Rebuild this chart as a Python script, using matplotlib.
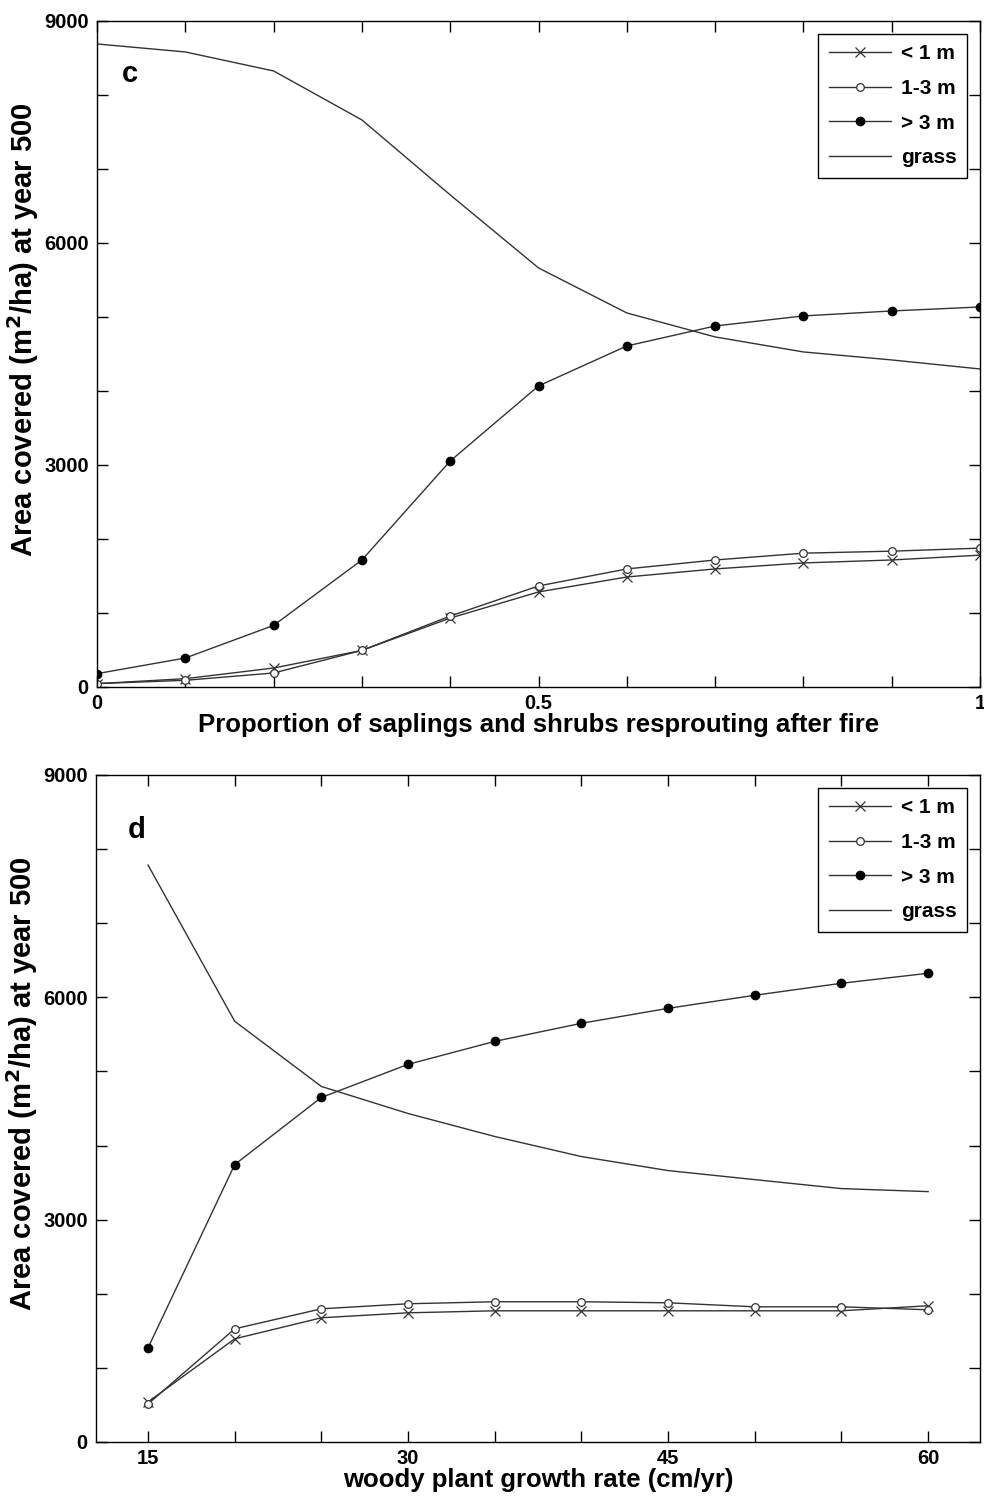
import numpy as np
import matplotlib
matplotlib.use("Agg")
import matplotlib.pyplot as plt
from matplotlib.ticker import FixedLocator, FixedFormatter

plt.rcParams['font.family'] = ['Liberation Sans', 'DejaVu Sans']
plt.rcParams['font.weight'] = 'bold'

# panel c: proportion resprouting after fire
resprout = [0.0, 0.1, 0.2, 0.3, 0.4, 0.5, 0.6, 0.7, 0.8, 0.9, 1.0]
c_lt1 = [45, 112, 256, 494, 931, 1284, 1486, 1595, 1676, 1716, 1781]
c_1to3 = [45, 90, 189, 494, 958, 1365, 1595, 1716, 1808, 1835, 1876]
c_gt3 = [180, 391, 832, 1716, 3054, 4068, 4608, 4878, 5014, 5081, 5135]
c_grass = [8689, 8581, 8324, 7662, 6649, 5662, 5054, 4730, 4527, 4419, 4297]

# panel d: woody plant growth rate
growth = [15, 20, 25, 30, 35, 40, 45, 50, 55, 60]
d_lt1 = [540, 1392, 1676, 1743, 1770, 1770, 1770, 1770, 1770, 1838]
d_1to3 = [514, 1527, 1797, 1865, 1892, 1892, 1878, 1824, 1824, 1784]
d_gt3 = [1270, 3743, 4649, 5095, 5405, 5649, 5851, 6027, 6189, 6324]
d_grass = [7784, 5676, 4797, 4432, 4122, 3851, 3662, 3540, 3419, 3378]

labels = ['< 1 m', '1-3 m', '> 3 m', 'grass']

fig = plt.figure(figsize=(9.84, 14.96), dpi=100)
ax_c = fig.add_axes([0.0986, 0.5408, 0.8974, 0.4452])
ax_d = fig.add_axes([0.0976, 0.0361, 0.8984, 0.4459])

lc = '0.2'


def draw(ax, x, lt1, mid, gt3, grass):
    ax.plot(x, lt1, color=lc, lw=1, marker='x', ms=7.5, mew=0.9, mfc='none', mec=lc, label=labels[0])
    ax.plot(x, mid, color=lc, lw=1, marker='o', ms=5.5, mew=0.9, mfc='white', mec=lc, label=labels[1])
    ax.plot(x, gt3, color=lc, lw=1, marker='o', ms=6, mfc='black', mec='black', label=labels[2])
    ax.plot(x, grass, color=lc, lw=1, label=labels[3])
    ax.set_ylim(0, 9000)
    ax.yaxis.set_major_locator(FixedLocator(np.arange(0, 9001, 1000)))
    ax.yaxis.set_major_formatter(FixedFormatter(['0', '', '', '3000', '', '', '6000', '', '', '9000']))
    ax.tick_params(direction='in', length=8, width=1, top=True, right=True,
                   labelsize=14.5, pad=6)
    ax.tick_params(axis='x', pad=5)
    ax.set_ylabel('Area covered (m$^\\mathbf{2}$/ha) at year 500', fontsize=21,
                  fontweight='bold')
    ax.yaxis.set_label_coords(-0.063, 0.537)
    for s in ax.spines.values():
        s.set_linewidth(1)
    leg = ax.legend(loc='upper right', bbox_to_anchor=(0.985, 0.9805), borderaxespad=0,
                    fancybox=False, edgecolor='black', framealpha=1, handlelength=3.0,
                    prop={'size': 15, 'weight': 'bold'}, borderpad=0.5,
                    labelspacing=0.75, handletextpad=0.45)
    leg.get_frame().set_linewidth(1)


draw(ax_c, resprout, c_lt1, c_1to3, c_gt3, c_grass)
ax_c.set_xlim(0, 1)
ax_c.xaxis.set_major_locator(FixedLocator(np.round(np.arange(0, 1.01, 0.1), 1)))
ax_c.xaxis.set_major_formatter(FixedFormatter(['0', '', '', '', '', '0.5', '', '', '', '', '1']))
ax_c.set_xlabel('Proportion of saplings and shrubs resprouting after fire', fontsize=18.5,
                fontweight='bold', labelpad=0)
ax_c.text(0.037, 0.92, 'c', transform=ax_c.transAxes, fontsize=21, fontweight='bold',
          ha='center', va='center')

draw(ax_d, growth, d_lt1, d_1to3, d_gt3, d_grass)
ax_d.set_xlim(12, 63)
ax_d.xaxis.set_major_locator(FixedLocator(growth))
ax_d.xaxis.set_major_formatter(FixedFormatter(['15', '', '', '30', '', '', '45', '', '', '60']))
ax_d.set_xlabel('woody plant growth rate (cm/yr)', fontsize=18.5, fontweight='bold', labelpad=0)
ax_d.text(0.046, 0.917, 'd', transform=ax_d.transAxes, fontsize=21, fontweight='bold',
          ha='center', va='center')

for ax in (ax_c, ax_d):
    for lab in ax.get_xticklabels() + ax.get_yticklabels():
        lab.set_fontweight('bold')

fig.savefig('out.png', dpi=100)
